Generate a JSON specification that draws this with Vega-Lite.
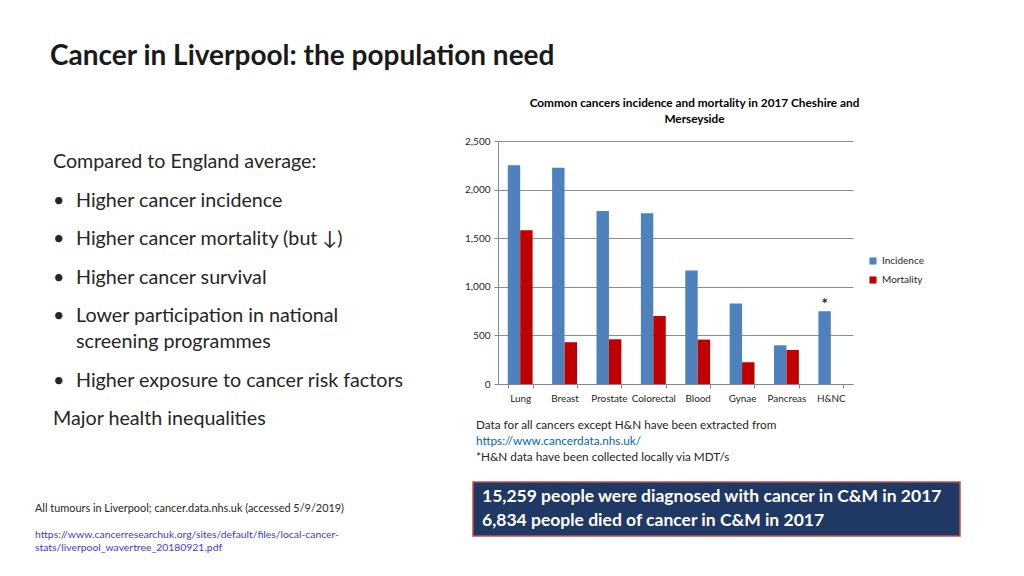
{
  "$schema": "https://vega.github.io/schema/vega-lite/v6.json",
  "background": "white",
  "padding": {"left": 35, "top": 43, "right": 0, "bottom": 0},
  "title": {"text": "Cancer in Liverpool: the population need", "anchor": "start", "dx": 15, "fontSize": 28, "fontWeight": "bold", "color": "#1a1a1a", "offset": 27},
  "datasets": {
    "bars": [
      {"cancer": "Lung", "measure": "Incidence", "value": 2250},
      {"cancer": "Lung", "measure": "Mortality", "value": 1582},
      {"cancer": "Breast", "measure": "Incidence", "value": 2225},
      {"cancer": "Breast", "measure": "Mortality", "value": 430},
      {"cancer": "Prostate", "measure": "Incidence", "value": 1779},
      {"cancer": "Prostate", "measure": "Mortality", "value": 460},
      {"cancer": "Colorectal", "measure": "Incidence", "value": 1756},
      {"cancer": "Colorectal", "measure": "Mortality", "value": 700},
      {"cancer": "Blood", "measure": "Incidence", "value": 1168},
      {"cancer": "Blood", "measure": "Mortality", "value": 457},
      {"cancer": "Gynae", "measure": "Incidence", "value": 828},
      {"cancer": "Gynae", "measure": "Mortality", "value": 223},
      {"cancer": "Pancreas", "measure": "Incidence", "value": 398},
      {"cancer": "Pancreas", "measure": "Mortality", "value": 350},
      {"cancer": "H&NC", "measure": "Incidence", "value": 749, "flag": "*"}
    ],
    "bullets": [
      {"line": 0, "kind": "plain", "text": "Compared to England average:"},
      {"line": 1, "kind": "bullet", "text": "Higher cancer incidence"},
      {"line": 2, "kind": "bullet", "text": "Higher cancer mortality (but ↓)"},
      {"line": 3, "kind": "bullet", "text": "Higher cancer survival"},
      {"line": 4, "kind": "bullet", "text": "Lower participation in national"},
      {"line": 4.67, "kind": "cont", "text": "screening programmes"},
      {"line": 5.67, "kind": "bullet", "text": "Higher exposure to cancer risk factors"},
      {"line": 6.67, "kind": "plain", "text": "Major health inequalities"}
    ],
    "foot": [
      {"line": 0, "kind": "plain", "text": "All tumours in Liverpool; cancer.data.nhs.uk (accessed 5/9/2019)"},
      {"line": 2, "kind": "link", "text": "https://www.cancerresearchuk.org/sites/default/files/local-cancer-"},
      {"line": 3, "kind": "link", "text": "stats/liverpool_wavertree_20180921.pdf"}
    ],
    "notes": [
      {"line": 0, "kind": "plain", "text": "Data for all cancers except H&N have been extracted from"},
      {"line": 1, "kind": "link", "text": "https://www.cancerdata.nhs.uk/"},
      {"line": 2, "kind": "plain", "text": "*H&N data have been collected locally via MDT/s"}
    ],
    "box": [
      {"line": 0, "text": "15,259 people were diagnosed with cancer in C&M in 2017"},
      {"line": 1, "text": "6,834 people died of cancer in C&M in 2017"}
    ],
    "spacer": [{"k": 0}]
  },
  "spacing": 44,
  "resolve": {"scale": {"color": "independent"}, "legend": {"color": "independent"}},
  "hconcat": [
    {
      "spacing": 65,
      "vconcat": [
        {
          "width": 385,
          "height": 290,
          "data": {"name": "bullets"},
          "encoding": {
            "x": {"datum": 0, "type": "quantitative", "scale": {"domain": [0, 1]}, "axis": null},
            "y": {"field": "line", "type": "quantitative", "scale": {"domain": [-0.55, 6.98], "reverse": true, "nice": false, "zero": false}, "axis": null}
          },
          "layer": [
            {
              "transform": [{"filter": "datum.kind == 'plain'"}],
              "mark": {"type": "text", "align": "left", "baseline": "middle", "dx": 18, "fontSize": 19.7, "color": "#262626"},
              "encoding": {"text": {"field": "text"}}
            },
            {
              "transform": [{"filter": "datum.kind != 'plain'"}],
              "mark": {"type": "text", "align": "left", "baseline": "middle", "dx": 41, "fontSize": 19.7, "color": "#262626"},
              "encoding": {"text": {"field": "text"}}
            },
            {
              "transform": [{"filter": "datum.kind == 'bullet'"}],
              "mark": {"type": "text", "align": "left", "baseline": "middle", "dx": 18, "fontSize": 19.7, "color": "#262626"},
              "encoding": {"text": {"value": "•"}}
            }
          ]
        },
        {
          "width": 385,
          "height": 60,
          "data": {"name": "foot"},
          "encoding": {
            "x": {"datum": 0, "type": "quantitative", "scale": {"domain": [0, 1]}, "axis": null},
            "y": {"field": "line", "type": "quantitative", "scale": {"domain": [-1, 3.615], "reverse": true, "nice": false, "zero": false}, "axis": null}
          },
          "layer": [
            {
              "transform": [{"filter": "datum.kind == 'plain'"}],
              "mark": {"type": "text", "align": "left", "baseline": "middle", "fontSize": 10.9, "color": "#262626"},
              "encoding": {"text": {"field": "text"}}
            },
            {
              "transform": [{"filter": "datum.kind == 'link'"}],
              "mark": {"type": "text", "align": "left", "baseline": "middle", "fontSize": 10.4, "color": "#3b3bd9"},
              "encoding": {"text": {"field": "text"}}
            }
          ]
        }
      ]
    },
    {
      "spacing": 10,
      "resolve": {"scale": {"color": "independent"}, "legend": {"color": "independent"}},
      "vconcat": [
        {
          "bounds": "flush",
          "spacing": 24,
          "resolve": {"scale": {"color": "independent"}, "legend": {"color": "independent"}},
          "hconcat": [
            {
              "width": 1,
              "height": 1,
              "data": {"name": "spacer"},
              "mark": {"type": "point", "opacity": 0}
            },
            {
              "width": 355,
              "height": 243,
              "title": {"text": ["Common cancers incidence and mortality in 2017 Cheshire and", "Merseyside"], "fontSize": 11.8, "fontWeight": "bold", "anchor": "middle", "dx": 19, "offset": 10, "lineHeight": 16, "color": "#000000"},
              "data": {"name": "bars"},
              "encoding": {
                "x": {
                  "field": "cancer", "type": "nominal",
                  "sort": ["Lung", "Breast", "Prostate", "Colorectal", "Blood", "Gynae", "Pancreas", "H&NC"],
                  "scale": {"paddingInner": 0.44, "paddingOuter": 0.22},
                  "axis": {"title": null, "labelAngle": 0, "tickBand": "extent", "tickSize": 4, "labelPadding": 5, "labelFontSize": 9.9, "grid": false}
                },
                "xOffset": {"field": "measure", "type": "nominal", "sort": ["Incidence", "Mortality"], "scale": {"paddingInner": 0, "paddingOuter": 0}},
                "y": {
                  "field": "value", "type": "quantitative",
                  "scale": {"domain": [0, 2500], "nice": false},
                  "axis": {"title": null, "values": [0, 500, 1000, 1500, 2000, 2500], "format": ",.0f", "grid": true, "tickSize": 4, "labelPadding": 4, "labelFontSize": 10}
                }
              },
              "layer": [
                {
                  "mark": {"type": "bar"},
                  "encoding": {
                    "color": {
                      "field": "measure", "type": "nominal",
                      "scale": {"domain": ["Incidence", "Mortality"], "range": ["#4f81bd", "#c00000"]},
                      "legend": {"title": null, "orient": "none", "legendX": 370, "legendY": 115, "symbolType": "square", "symbolSize": 50, "labelFontSize": 10, "rowPadding": 9, "labelColor": "#262626"}
                    }
                  }
                },
                {
                  "transform": [{"filter": "isValid(datum.flag)"}],
                  "mark": {"type": "text", "baseline": "middle", "dy": -7, "fontSize": 15, "fontWeight": "bold", "color": "#262626"},
                  "encoding": {"text": {"field": "flag"}}
                }
              ]
            }
          ]
        },
        {
          "width": 487,
          "height": 58,
          "data": {"name": "notes"},
          "encoding": {
            "x": {"datum": 0, "type": "quantitative", "scale": {"domain": [0, 1]}, "axis": null},
            "y": {"field": "line", "type": "quantitative", "scale": {"domain": [-0.75, 2.875], "reverse": true, "nice": false, "zero": false}, "axis": null}
          },
          "layer": [
            {
              "transform": [{"filter": "datum.kind == 'plain'"}],
              "mark": {"type": "text", "align": "left", "baseline": "middle", "dx": 3, "fontSize": 11.75, "color": "#262626"},
              "encoding": {"text": {"field": "text"}}
            },
            {
              "transform": [{"filter": "datum.kind == 'link'"}],
              "mark": {"type": "text", "align": "left", "baseline": "middle", "dx": 3, "fontSize": 11.75, "color": "#0563c1"},
              "encoding": {"text": {"field": "text"}}
            }
          ]
        },
        {
          "width": 487,
          "height": 54,
          "view": {"fill": "#203864", "stroke": "#c0504d", "strokeWidth": 1.5},
          "data": {"name": "box"},
          "mark": {"type": "text", "align": "left", "baseline": "middle", "dx": 9, "fontSize": 17.5, "fontWeight": "bold", "color": "#ffffff"},
          "encoding": {
            "x": {"datum": 0, "type": "quantitative", "scale": {"domain": [0, 1]}, "axis": null},
            "y": {"field": "line", "type": "quantitative", "scale": {"domain": [-0.625, 1.625], "reverse": true, "nice": false, "zero": false}, "axis": null},
            "text": {"field": "text"}
          }
        }
      ]
    }
  ],
  "config": {
    "font": "Lato",
    "view": {"stroke": null},
    "axis": {"labelFont": "Lato", "labelColor": "#262626", "domainColor": "#868686", "tickColor": "#868686", "gridColor": "#8c8c8c"},
    "legend": {"labelFont": "Lato"}
  }
}
